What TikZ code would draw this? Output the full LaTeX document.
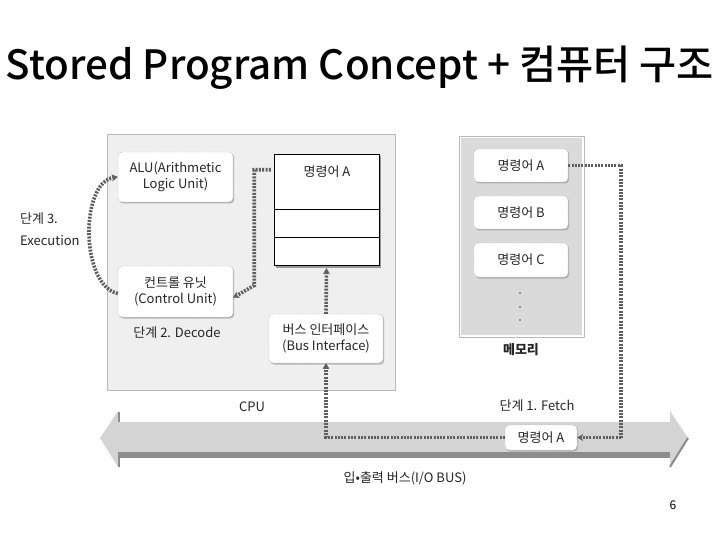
\documentclass[tikz,border=0pt]{standalone}
\usepackage{fontspec}
\setmainfont{Noto Sans CJK KR}
\newfontfamily\titlefont{Noto Sans CJK KR Medium}
\usetikzlibrary{shadows,arrows.meta,calc}
\definecolor{cpufill}{HTML}{EFEFEF}
\definecolor{memfill}{HTML}{DADADA}
\definecolor{busfill}{HTML}{D4D4D4}
\definecolor{busdark}{HTML}{8C8C8C}
\definecolor{dotcol}{HTML}{5E5E5E}
\tikzset{
  rbox/.style={draw=gray!65, dash pattern=on 1.2pt off 1pt, rounded corners=4pt, fill=white,
    drop shadow={shadow xshift=1.2pt, shadow yshift=-1.5pt, fill=gray!70, opacity=0.8},
    align=center, font=\fontsize{13}{16}\selectfont, text=black!85, inner sep=0pt},
  lbl/.style={font=\fontsize{13}{16}\selectfont, text=black!85, align=center, inner sep=0pt},
  dotline/.style={draw=dotcol, line width=3.6pt, dash pattern=on 2pt off 1.3pt},
  dotarr/.style={dotline, -{Stealth[length=6pt,width=7pt,fill=dotcol,line width=0.4pt]}},
}
\begin{document}
\begin{tikzpicture}[x=1pt,y=-1pt]
\useasboundingbox (0,0) rectangle (720,540);
% title
\node[font=\titlefont\fontsize{40}{46}\selectfont, inner sep=0pt] (title) at (360,68)
  {\resizebox{708pt}{!}{Stored Program Concept + 컴퓨터 구조}};
% CPU box
\node[draw=gray!55, fill=cpufill, minimum width=288pt, minimum height=256pt, inner sep=0pt] (cpu) at (251,262) {};
% ALU and control unit
\node[rbox, minimum width=115pt, minimum height=50pt] (alu) at (175.5,177) {ALU(Arithmetic\\Logic Unit)};
\node[rbox, minimum width=115pt, minimum height=51pt] (cu) at (175.5,291.5) {컨트롤 유닛\\(Control Unit)};
\node[lbl] (decode) at (177,333) {단계 2. Decode};
% register
\node[draw=black, fill=white, minimum width=105pt, minimum height=111pt, inner sep=0pt,
  drop shadow={shadow xshift=2pt, shadow yshift=-2.5pt, fill=gray!80, opacity=1}] (reg) at (326.5,209.5) {};
\draw[black] (274,209) -- (379,209) (274,237) -- (379,237);
\node[lbl] (regA) at (327,172) {명령어 A};
% bus interface
\node[rbox, minimum width=114pt, minimum height=49pt] (busif) at (326,338.5) {버스 인터페이스\\(Bus Interface)};
\node[lbl] (cpulbl) at (252,407) {CPU};
% execution label
\node[lbl, align=left, anchor=west, font=\fontsize{13}{22}\selectfont] (exec) at (20,229) {단계 3.\\Execution};
% memory
\node[draw=gray!55, fill=white, minimum width=125pt, minimum height=201pt, inner sep=0pt] (mem) at (521.5,236.5) {};
\fill[memfill] (461,138) rectangle (582,335);
\node[rbox, minimum width=94pt, minimum height=33pt] (memA) at (521,165.5) {명령어 A};
\node[rbox, minimum width=94pt, minimum height=33pt] (memB) at (521,212.5) {명령어 B};
\node[rbox, minimum width=94pt, minimum height=34pt] (memC) at (521,260) {명령어 C};
\fill[black!70] (520,293) circle (0.9) (520,307) circle (0.9) (520,320) circle (0.9);
\node[lbl, font=\bfseries\fontsize{13}{16}\selectfont] (memlbl) at (521,350) {메모리};
\node[lbl] (fetch) at (537,406) {단계 1. Fetch};
% bus arrow
\fill[busfill] (100,438) -- (118,411) -- (118,422) -- (670,422) -- (670,411) -- (688,438) -- (670,467) -- (670,457) -- (118,457) -- (118,467) -- cycle;
\fill[busdark] (118,452) rectangle (670,458);
\draw[busdark, line width=2pt] (688,438) -- (670,467);
\draw[busdark, line width=1.5pt] (119,458) -- (119,467);
\draw[busdark, line width=1.5pt] (119,412) -- (119,422);
\node[rbox, minimum width=72pt, minimum height=25pt] (busA) at (541,437.5) {명령어 A};
\node[lbl] (buslbl) at (405,478) {입•출력 버스(I/O BUS)};
\node[font=\fontsize{12}{14}\selectfont, inner sep=0pt] (pnum) at (673,505) {6};
% connectors
\draw[dotarr] ([xshift=-3pt,yshift=-16pt]reg.north west) -| ($(cu.east)+(21,-6)$) -- ([yshift=-6pt]cu.east);
\draw[dotarr] ([yshift=-2pt]cu.west) .. controls (80,285) and (80,182) .. (alu.west);
\draw[dotarr] (busif.north) -- ([yshift=-3pt]reg.south);
\draw[dotarr] (busA.west) -| (busif.south);
\coordinate (fetchc) at (621,437.5);
\draw[dotline] (memA.east) -| (fetchc);
\draw[dotarr] (fetchc) -- (busA.east);
\end{tikzpicture}
\end{document}
